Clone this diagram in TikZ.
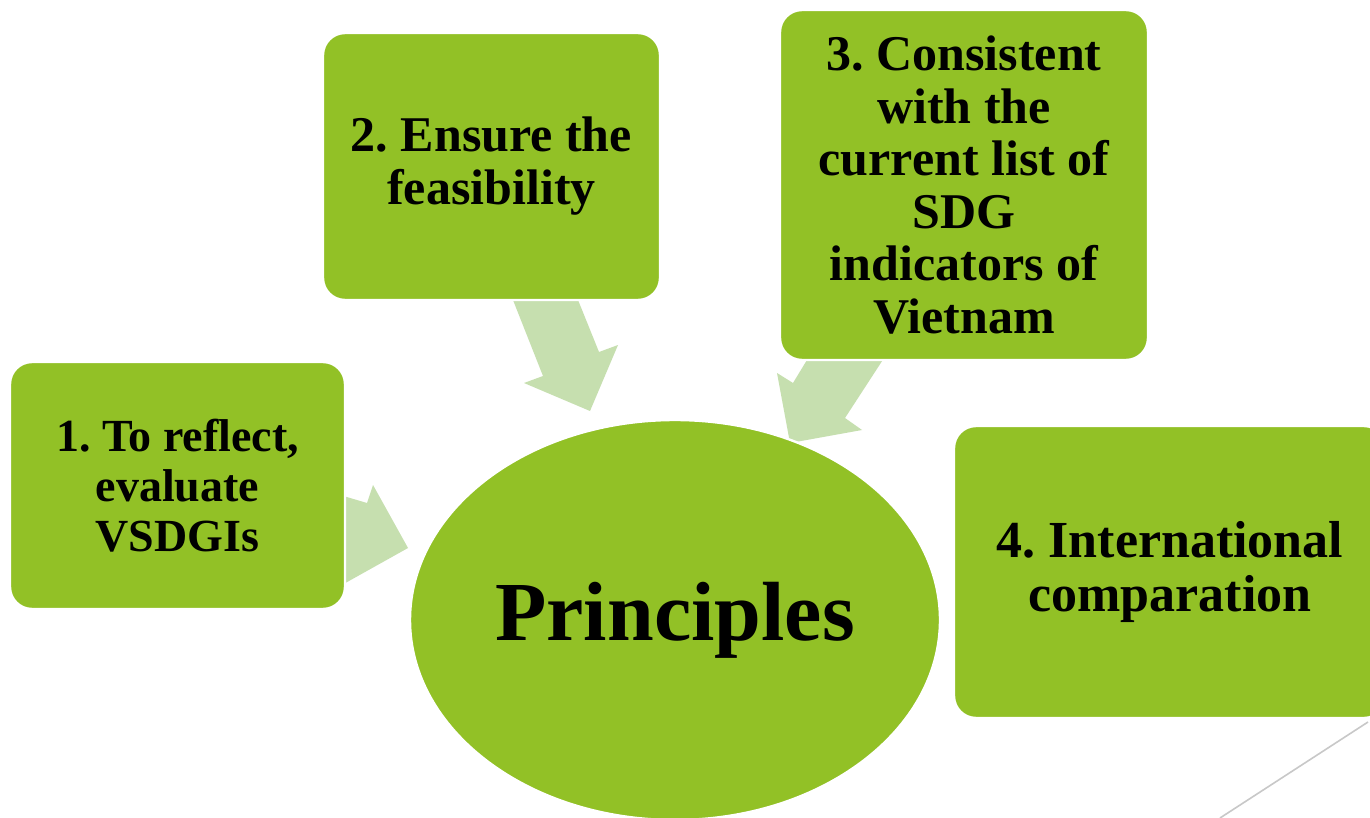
\documentclass[tikz,border=0pt]{standalone}
\usepackage{fontspec}
\setmainfont{Liberation Serif}
\frenchspacing
\usetikzlibrary{shapes.geometric}
\definecolor{boxgreen}{HTML}{92C126}
\definecolor{arrowgreen}{HTML}{C6DFAF}
\definecolor{decogrey}{HTML}{C8C8C8}
\tikzset{
  greenbox/.style={rectangle, rounded corners=11pt, fill=boxgreen, draw=white, line width=1.2pt,
    align=center, inner sep=0pt, font=\bfseries},
  blockarrow/.style={fill=arrowgreen, draw=none},
}
\begin{document}
\begin{tikzpicture}[x=0.5pt, y=-0.5pt]
\useasboundingbox (0,0) rectangle (1370,818);
\clip (0,0) rectangle (1370,818);
\fill[white] (0,0) rectangle (1370,818);

% block arrows (behind the shapes)
\fill[blockarrow] (340,495) -- (367,503) -- (373,485) -- (408,548) -- (340,586) -- cycle;
\fill[blockarrow] (511,295) -- (576,295) -- (599,352) -- (618,345) -- (590,411) -- (524,383) -- (543,376) -- cycle;
\fill[blockarrow] (810,355) -- (886,355) -- (845,418) -- (862,430) -- (790,443) -- (777,373) -- (793,383) -- cycle;

% boxes
\node[greenbox, minimum width=167.5pt, minimum height=123.5pt,
  font=\bfseries\fontsize{23}{25}\selectfont] (b1) at (177.5,485.5)
  {1. To reflect,\\evaluate\\VSDGIs};
\node[greenbox, minimum width=168.5pt, minimum height=133.5pt,
  font=\bfseries\fontsize{25}{27.5}\selectfont] (b2) at (491.5,166.5)
  {\raisebox{-1pt}{2. Ensure the}\\feasibility};
\node[greenbox, minimum width=184pt, minimum height=175pt,
  font=\bfseries\fontsize{25}{26.3}\selectfont] (b3) at (964,185)
  {3. Consistent\\with the\\current list of\\SDG\\indicators of\\Vietnam};
\node[greenbox, minimum width=216pt, minimum height=146pt,
  font=\bfseries\fontsize{26}{27}\selectfont] (b4) at (1170,572)
  {4. International\\comparation};

% central ellipse
\node[ellipse, fill=boxgreen, draw=white, line width=1.2pt, inner sep=0pt,
  minimum width=265pt, minimum height=200pt,
  font=\bfseries\fontsize{42}{44}\selectfont] (c) at (675,620) {\raisebox{-2.5pt}{Principles}};

% decorative line
\coordinate (d1) at (1220,818);
\coordinate (d2) at (1368,722);
\draw[decogrey, line width=0.8pt] (d1) -- (d2);
\end{tikzpicture}
\end{document}
